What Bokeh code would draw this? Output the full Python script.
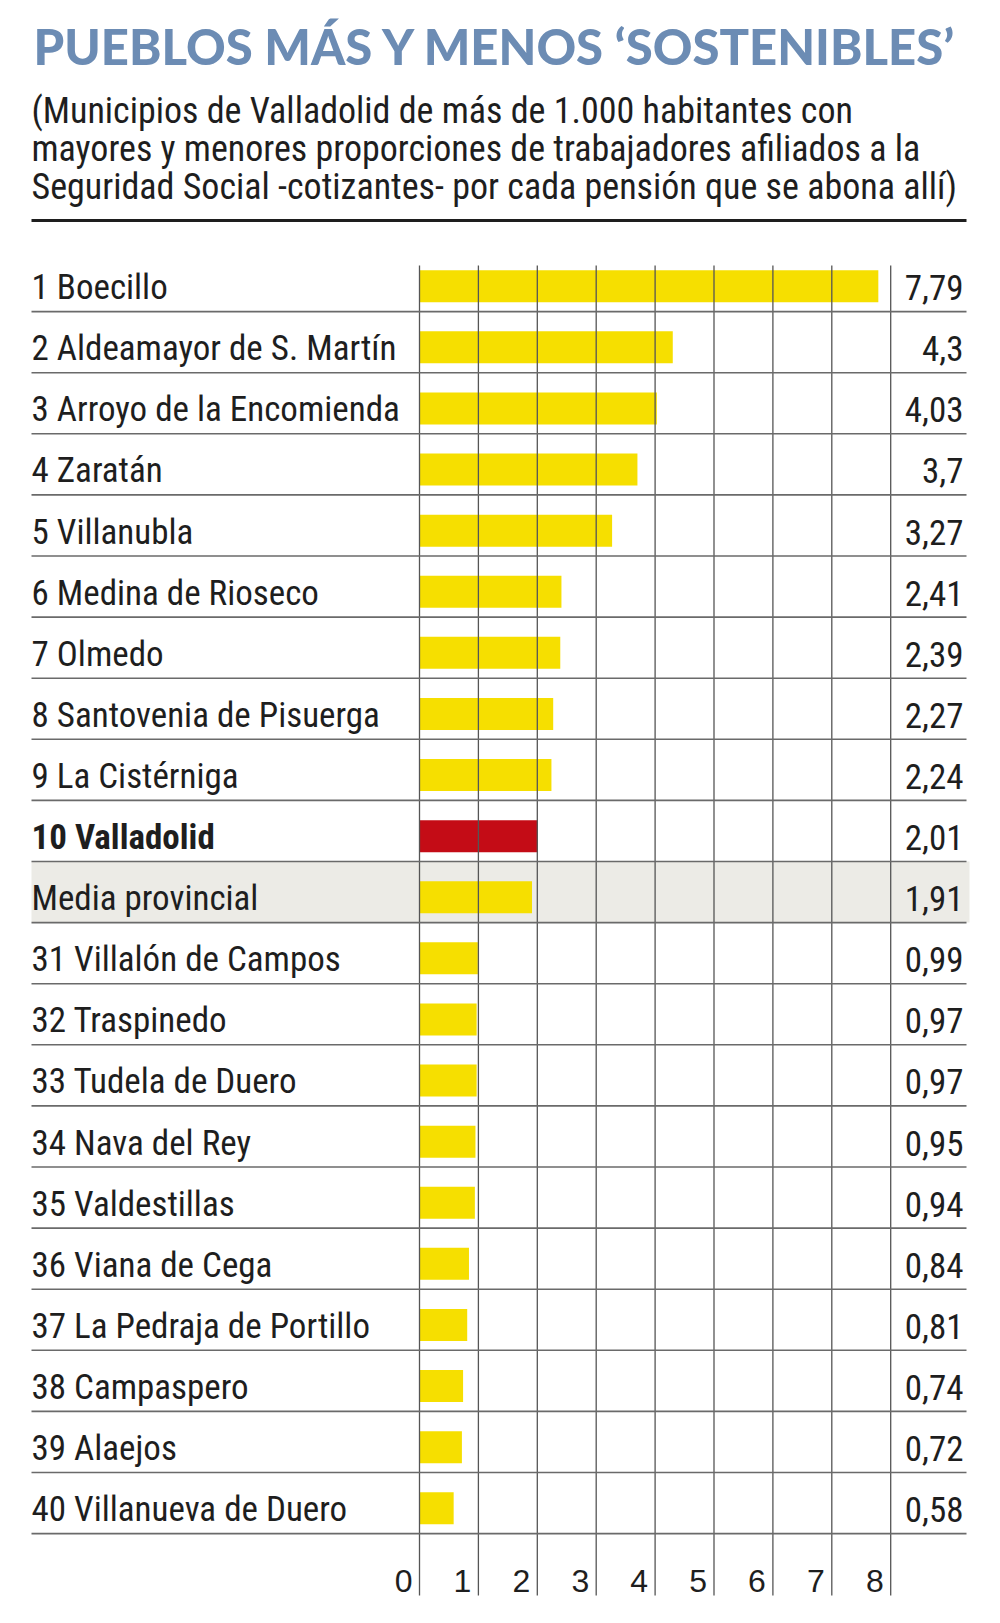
from bokeh.plotting import figure
from bokeh.models import Range1d, ColumnDataSource
from bokeh.core.properties import value
from bokeh.embed import file_html
from bokeh.resources import INLINE

# ---------------- data ----------------
labels = ["1 Boecillo", "2 Aldeamayor de S. Martín", "3 Arroyo de la Encomienda", "4 Zaratán",
          "5 Villanubla", "6 Medina de Rioseco", "7 Olmedo", "8 Santovenia de Pisuerga",
          "9 La Cistérniga", "10 Valladolid", "Media provincial", "31 Villalón de Campos",
          "32 Traspinedo", "33 Tudela de Duero", "34 Nava del Rey", "35 Valdestillas",
          "36 Viana de Cega", "37 La Pedraja de Portillo", "38 Campaspero", "39 Alaejos",
          "40 Villanueva de Duero"]
values = [7.79, 4.3, 4.03, 3.7, 3.27, 2.41, 2.39, 2.27, 2.24, 2.01, 1.91, 0.99, 0.97, 0.97,
          0.95, 0.94, 0.84, 0.81, 0.74, 0.72, 0.58]
value_labels = ["7,79", "4,3", "4,03", "3,7", "3,27", "2,41", "2,39", "2,27", "2,24", "2,01",
                "1,91", "0,99", "0,97", "0,97", "0,95", "0,94", "0,84", "0,81", "0,74", "0,72", "0,58"]
ticks = [0, 1, 2, 3, 4, 5, 6, 7, 8]
tick_labels = ["0", "1", "2", "3", "4", "5", "6", "7", "8"]
highlight_label = "10 Valladolid"
average_label = "Media provincial"
title = "PUEBLOS MÁS Y MENOS ‘SOSTENIBLES’"
subtitle = ["(Municipios de Valladolid de más de 1.000 habitantes con",
            "mayores y menores proporciones de trabajadores afiliados a la",
            "Seguridad Social -cotizantes- por cada pensión que se abona allí)"]

# ---------------- geometry / styles ----------------
W, H = 984, 1607
X0_PX, UNIT = 419.0, 58.9          # pixel of value 0, pixels per unit
ROW_H, ROW0_TOP = 61.1, 250.0      # row height, top of first row (px)
K = 0.37                           # empirical baseline correction (fraction of font size)

def px_x(px):
    return (px - X0_PX) / UNIT

def px_y(py):
    return (py - (ROW0_TOP + ROW_H / 2)) / ROW_H

def base_y(py, size):
    return px_y(py - K * size)

YELLOW = "#f6df00"
RED = "#c40c16"
GREY_BG = "#ecebe6"
TITLE_C = "#6c8cb4"
INK = "#1e1e1e"
LINE_C = "#555555"
COND = value("'Roboto Condensed', 'Liberation Sans Narrow', 'DejaVu Sans Condensed', 'Lato', sans-serif")
ARIAL = value("'Liberation Sans', 'Arimo', sans-serif")
HEAVY = value("'Lato Black', 'Lato Heavy', 'Lato', sans-serif")

LAB_SIZE = 35
SUB_SIZE = 36
TITLE_SIZE = 49
TICK_SIZE = 32

n = len(labels)
rows = list(range(n))

p = figure(width=W, height=H, output_backend="svg", toolbar_location=None,
           x_range=Range1d(px_x(0), px_x(W)),
           y_range=Range1d(px_y(H), px_y(0)),
           min_border=0, outline_line_color=None)
p.axis.visible = False
p.grid.visible = False
p.background_fill_color = "white"
p.border_fill_color = "white"

# highlighted "media provincial" row
avg_i = labels.index(average_label)
p.quad(left=[px_x(31)], right=[px_x(969)], top=[avg_i - 0.5], bottom=[avg_i + 0.5],
       fill_color=GREY_BG, line_color=None)

# bars
colors = [RED if l == highlight_label else YELLOW for l in labels]
src = ColumnDataSource(dict(y=[r + 0.085 for r in rows], v=values, c=colors))
p.hbar(y="y", left=0, right="v", height=32 / ROW_H, fill_color="c", line_color=None, source=src)

# vertical grid lines (over the bars)
p.segment(x0=ticks, x1=ticks, y0=[px_y(265)] * len(ticks), y1=[px_y(1595)] * len(ticks),
          line_color=LINE_C, line_width=1.3)

# horizontal row separators
seps = [r + 0.5 for r in rows]
p.segment(x0=[px_x(31)] * n, x1=[px_x(966)] * n, y0=seps, y1=seps,
          line_color="#6a6a6a", line_width=1.6)

# row labels (baseline 11 px above the row's bottom line)
lab_y = [base_y(ROW0_TOP + ROW_H * (r + 1) - 11, LAB_SIZE) for r in rows]
lab_src = ColumnDataSource(dict(
    x=[px_x(31)] * n, y=lab_y, t=labels,
    st=["bold" if l == highlight_label else "normal" for l in labels]))
p.text(x="x", y="y", text="t", text_font_style="st", source=lab_src, text_font=COND,
       text_font_size=f"{LAB_SIZE}px", text_color=INK, text_baseline="alphabetic", text_align="left")

# value labels
val_src = ColumnDataSource(dict(x=[px_x(963)] * n, y=lab_y, t=value_labels))
p.text(x="x", y="y", text="t", source=val_src, text_font=COND, text_font_size=f"{LAB_SIZE}px",
       text_color=INK, text_baseline="alphabetic", text_align="right")

# x tick labels (right of each label touches its grid line)
p.text(x=[t - 7 / UNIT for t in ticks], y=[base_y(1592, TICK_SIZE)] * len(ticks), text=tick_labels,
       text_font=ARIAL, text_font_size=f"{TICK_SIZE}px", text_color=INK,
       text_baseline="alphabetic", text_align="right")

# title
p.text(x=[px_x(33)], y=[base_y(64, TITLE_SIZE)], text=[title], text_font=HEAVY, text_font_style="bold",
       text_font_size=f"{TITLE_SIZE}px", text_color=TITLE_C, text_baseline="alphabetic", text_align="left")

# subtitle
p.text(x=[px_x(31)] * 3, y=[base_y(124, SUB_SIZE), base_y(162, SUB_SIZE), base_y(200, SUB_SIZE)],
       text=subtitle, text_font=COND, text_font_size=f"{SUB_SIZE}px", text_color=INK,
       text_baseline="alphabetic", text_align="left")

# black rule under subtitle
p.segment(x0=[px_x(31)], x1=[px_x(966)], y0=[px_y(220)], y1=[px_y(220)],
          line_color=INK, line_width=3)

open("out.html", "w").write(file_html(p, INLINE))
